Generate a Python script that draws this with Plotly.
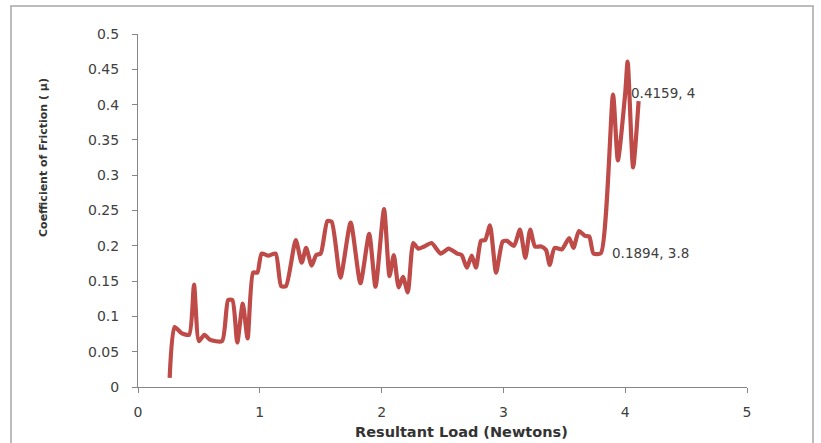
import plotly.graph_objects as go

# Resultant load (N) and measured coefficient of friction
load_n = [
    0.26, 0.30, 0.36, 0.42, 0.46, 0.50, 0.545, 0.59, 0.69, 0.74,
    0.775, 0.815, 0.86, 0.90, 0.945, 0.98, 1.015, 1.07, 1.13, 1.175,
    1.215, 1.295, 1.344, 1.38, 1.426, 1.463, 1.50, 1.555, 1.59, 1.662,
    1.746, 1.826, 1.898, 1.95, 2.02, 2.065, 2.10, 2.14, 2.175, 2.215,
    2.26, 2.30, 2.35, 2.41, 2.485, 2.55, 2.62, 2.657, 2.70, 2.74,
    2.775, 2.816, 2.85, 2.89, 2.94, 2.994, 3.03, 3.087, 3.136, 3.18,
    3.22, 3.26, 3.31, 3.35, 3.38, 3.42, 3.48, 3.54, 3.575, 3.62,
    3.67, 3.705, 3.74, 3.80, 3.90, 3.94, 4.00, 4.02, 4.065, 4.11,
]
friction = [
    0.013, 0.085, 0.076, 0.074, 0.145, 0.065, 0.074, 0.067, 0.065, 0.123,
    0.123, 0.063, 0.118, 0.069, 0.162, 0.162, 0.189, 0.186, 0.189, 0.143,
    0.143, 0.208, 0.176, 0.197, 0.172, 0.187, 0.189, 0.235, 0.234, 0.155,
    0.233, 0.147, 0.217, 0.142, 0.252, 0.157, 0.187, 0.141, 0.156, 0.134,
    0.204, 0.196, 0.199, 0.204, 0.189, 0.196, 0.189, 0.187, 0.169, 0.186,
    0.169, 0.207, 0.208, 0.229, 0.162, 0.206, 0.207, 0.200, 0.223, 0.183,
    0.223, 0.199, 0.199, 0.194, 0.173, 0.197, 0.195, 0.211, 0.197, 0.221,
    0.214, 0.213, 0.189, 0.1894, 0.414, 0.321, 0.4159, 0.461, 0.311, 0.405,
]

# Labelled points (load, coefficient)
label_load = [3.8, 4.0]
label_mu = [0.1894, 0.4159]
label_shift = [9, 4]

x_ticks = [0, 1, 2, 3, 4, 5]
y_ticks = [0, 0.05, 0.1, 0.15, 0.2, 0.25, 0.3, 0.35, 0.4, 0.45, 0.5]

W, H = 821, 443
ML, MR, MT, MB = 138, 74, 34, 56
PW, PH = W - ML - MR, H - MT - MB


def px_to_paper_x(px):
    return (px - ML) / PW


def px_to_paper_y(py):
    return 1 - (py - MT) / PH


fig = go.Figure()
fig.add_trace(go.Scatter(
    x=load_n, y=friction, mode="lines",
    line=dict(color="#BE4B48", width=4.2, shape="spline", smoothing=0.6),
    hoverinfo="x+y", showlegend=False,
))

annotations = []
for lx, ly, sh in zip(label_load, label_mu, label_shift):
    annotations.append(dict(
        x=lx, y=ly, xref="x", yref="y", text=f"{ly}, {lx:g}",
        showarrow=False, xanchor="left", yanchor="middle", xshift=sh,
        font=dict(family="DejaVu Sans", size=13.5, color="#404040"),
    ))

# Axis titles
annotations.append(dict(
    x=px_to_paper_x(43), y=px_to_paper_y(158), xref="paper", yref="paper",
    text="Coefficient of Friction ( μ)", textangle=-90, showarrow=False,
    xanchor="center", yanchor="middle",
    font=dict(family="DejaVu Sans", size=11, color="#333333", weight="bold"),
))
annotations.append(dict(
    x=px_to_paper_x(461), y=px_to_paper_y(432), xref="paper", yref="paper",
    text="Resultant Load (Newtons)", showarrow=False,
    xanchor="center", yanchor="middle",
    font=dict(family="DejaVu Sans", size=14.5, color="#333333", weight="bold"),
))

axis_common = dict(
    showgrid=False, zeroline=False, showline=True, linecolor="#868686",
    linewidth=1, ticks="outside", ticklen=5, tickcolor="#868686",
    tickfont=dict(family="DejaVu Sans", size=14, color="#404040"),
)

fig.update_layout(
    width=W, height=H,
    margin=dict(l=ML, r=MR, t=MT, b=MB),
    paper_bgcolor="white", plot_bgcolor="white",
    xaxis=dict(range=[0, 5], tickvals=x_ticks, ticktext=[str(v) for v in x_ticks],
               ticklabelstandoff=7, **axis_common),
    yaxis=dict(range=[0, 0.5], tickvals=y_ticks, ticktext=[f"{v:g}" for v in y_ticks],
               ticklabelstandoff=10, **axis_common),
    annotations=annotations,
    shapes=[dict(
        type="rect", xref="paper", yref="paper",
        x0=px_to_paper_x(11), x1=px_to_paper_x(813),
        y0=px_to_paper_y(446), y1=px_to_paper_y(6),
        line=dict(color="#A6A6A6", width=1.5), layer="below",
    )],
)

fig.write_html("out.html")
